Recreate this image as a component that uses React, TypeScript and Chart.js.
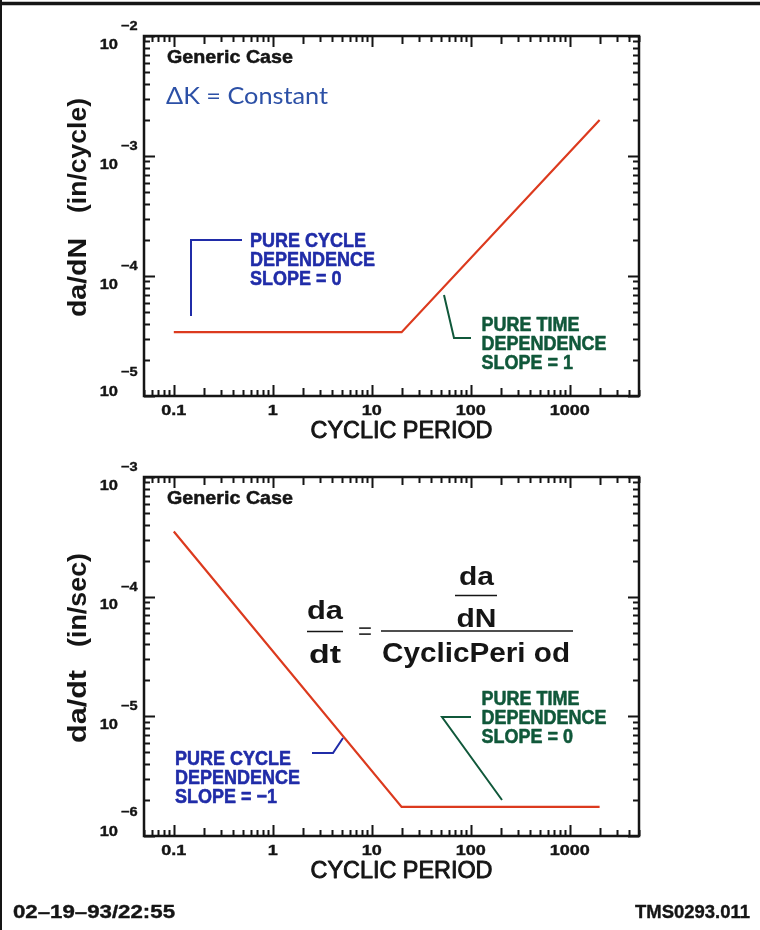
import React, { useEffect, useRef } from "react";
import { Chart, registerables } from "chart.js";

Chart.register(...registerables);

// ---- data ----
const X_RANGE = [0.05, 5000];
const X_TICK_VALUES = [0.1, 1, 10, 100, 1000];
const X_TICK_LABELS = ["0.1", "1", "10", "100", "1000"];

// crack growth per cycle vs cyclic period
const PERIOD_TOP = [0.1, 20, 2000];
const DADN_TOP = [3.4e-5, 3.4e-5, 2.0e-3];
const TOP_Y_EXPONENTS = [-5, -4, -3, -2];

// crack growth per second vs cyclic period
const PERIOD_BOTTOM = [0.1, 20, 2000];
const DADT_BOTTOM = [3.5e-4, 1.75e-6, 1.75e-6];
const BOTTOM_Y_EXPONENTS = [-6, -5, -4, -3];

// ---- styles ----
const RED = "rgb(220, 58, 30)";
const INK = "#151515";
const BLUE = "rgb(32, 44, 168)";
const LIGHT_BLUE = "rgb(44, 80, 166)";
const GREEN = "rgb(16, 88, 58)";
const SANS = '"Liberation Sans", Arial, sans-serif';

type TextOpts = {
  font: string;
  color: string;
  align?: "left" | "center" | "right";
  sx?: number;
  sy?: number;
  width?: number;
  rotate?: number;
  heavy?: number;
};

function drawText(ctx: CanvasRenderingContext2D, text: string, x: number, y: number, o: TextOpts) {
  ctx.save();
  ctx.font = o.font;
  ctx.fillStyle = o.color;
  ctx.strokeStyle = o.color;
  ctx.textBaseline = "alphabetic";
  ctx.textAlign = "left";
  ctx.translate(x, y);
  if (o.rotate) ctx.rotate(o.rotate);
  const w = ctx.measureText(text).width;
  let sx = o.sx ?? 1;
  if (o.width) sx = o.width / w;
  ctx.scale(sx, o.sy ?? 1);
  const align = o.align ?? "left";
  const dx = align === "center" ? -w / 2 : align === "right" ? -w : 0;
  ctx.fillText(text, dx, 0);
  if (o.heavy) {
    ctx.lineWidth = o.heavy;
    ctx.lineJoin = "round";
    ctx.strokeText(text, dx, 0);
  }
  ctx.restore();
}

function polyline(ctx: CanvasRenderingContext2D, pts: number[][], color: string, width = 2) {
  ctx.save();
  ctx.strokeStyle = color;
  ctx.lineWidth = width;
  ctx.lineJoin = "miter";
  ctx.beginPath();
  pts.forEach(([x, y], i) => (i === 0 ? ctx.moveTo(x, y) : ctx.lineTo(x, y)));
  ctx.stroke();
  ctx.restore();
}

function calloutLines(ctx: CanvasRenderingContext2D, lines: string[], x: number, baseline: number, color: string) {
  lines.forEach((t, i) =>
    drawText(ctx, t, x, baseline + i * 19, { font: `bold 18px ${SANS}`, color, sy: 1.1, heavy: 0.5 })
  );
}

type Panel = {
  xs: number[];
  ys: number[];
  yExps: number[];
  area: { left: number; top: number; right: number; bottom: number };
  yTitle: { text: string; center: number; width: number }[];
  decorate: (ctx: CanvasRenderingContext2D) => void;
};

const CANVAS_W = 760;
const CANVAS_H = 930;

function logTicks(min: number, max: number) {
  const out: { v: number; m: number }[] = [];
  for (let e = Math.floor(Math.log10(min)); e <= Math.ceil(Math.log10(max)); e++) {
    for (let m = 1; m <= 9; m++) {
      const v = m * Math.pow(10, e);
      if (v >= min * 0.9999 && v <= max * 1.0001) out.push({ v, m });
    }
  }
  return out;
}

function makePanel(canvas: HTMLCanvasElement, p: Panel) {
  const yMin = Math.pow(10, p.yExps[0]);
  const yMax = Math.pow(10, p.yExps[p.yExps.length - 1]);

  const paperAxes = {
    id: "paperAxes",
    afterDraw(chart: any) {
      const ctx: CanvasRenderingContext2D = chart.ctx;
      const xs = chart.scales.x;
      const ys = chart.scales.y;
      const { left, right, top, bottom } = chart.chartArea;

      // inward tick marks on all four sides
      ctx.save();
      ctx.strokeStyle = INK;
      ctx.lineWidth = 2;
      ctx.beginPath();
      for (const { v, m } of logTicks(X_RANGE[0], X_RANGE[1])) {
        const px = Math.round(xs.getPixelForValue(v)) + 0.5;
        const len = m === 1 ? 11 : m === 2 ? 8 : 6;
        ctx.moveTo(px, bottom);
        ctx.lineTo(px, bottom - len);
        ctx.moveTo(px, top);
        ctx.lineTo(px, top + len);
      }
      for (const { v, m } of logTicks(yMin, yMax)) {
        const py = Math.round(ys.getPixelForValue(v)) + 0.5;
        const len = m === 1 ? 11 : 6;
        ctx.moveTo(left, py);
        ctx.lineTo(left + len, py);
        ctx.moveTo(right, py);
        ctx.lineTo(right - len, py);
      }
      ctx.stroke();
      ctx.lineWidth = 2.5;
      ctx.strokeRect(left, top, right - left, bottom - top);
      ctx.restore();

      // x tick labels
      X_TICK_VALUES.forEach((v, i) => {
        drawText(ctx, X_TICK_LABELS[i], xs.getPixelForValue(v), bottom + 19, {
          font: `bold 15px ${SANS}`,
          color: INK,
          align: "center",
          sx: 1.2,
          heavy: 0.4,
        });
      });

      // y tick labels as powers of ten
      p.yExps.forEach((e, i) => {
        const py = ys.getPixelForValue(Math.pow(10, e));
        const isLowest = i === 0;
        const base = isLowest ? py - 0.5 : py + 12.5;
        const sup = isLowest ? py - 20 : py - 6;
        drawText(ctx, "10", left - 26, base, {
          font: `bold 15px ${SANS}`,
          color: INK,
          align: "right",
          sx: 1.1,
          heavy: 0.4,
        });
        drawText(ctx, `\u2212${Math.abs(e)}`, left - 23, sup, {
          font: `bold 13px ${SANS}`,
          color: INK,
          sx: 1.12,
          heavy: 0.4,
        });
      });

      // axis titles
      drawText(ctx, "CYCLIC PERIOD", (left + right) / 2 + 10, bottom + 42, {
        font: `23px ${SANS}`,
        color: INK,
        align: "center",
        width: 182,
        heavy: 0.9,
      });
      p.yTitle.forEach((t) =>
        drawText(ctx, t.text, 86, t.center, {
          font: `bold 26px ${SANS}`,
          color: INK,
          align: "center",
          width: t.width,
          rotate: -Math.PI / 2,
        })
      );

      drawText(ctx, "Generic Case", left + 23, top + 27, {
        font: `bold 19px ${SANS}`,
        color: INK,
        width: 126,
        heavy: 0.5,
      });

      p.decorate(ctx);
    },
  };

  return new Chart(canvas, {
    type: "line",
    data: {
      datasets: [
        {
          data: p.xs.map((x, i) => ({ x, y: p.ys[i] })),
          borderColor: RED,
          borderWidth: 2.2,
          pointRadius: 0,
          fill: false,
          tension: 0,
        },
      ],
    },
    options: {
      responsive: false,
      animation: false,
      events: [],
      layout: {
        padding: {
          left: p.area.left,
          top: p.area.top,
          right: CANVAS_W - p.area.right,
          bottom: CANVAS_H - p.area.bottom,
        },
      },
      plugins: {
        legend: { display: false },
        tooltip: { enabled: false },
        title: { display: false },
      },
      scales: {
        x: {
          type: "logarithmic",
          min: X_RANGE[0],
          max: X_RANGE[1],
          grid: { display: false, drawTicks: false },
          border: { display: false },
          ticks: { display: false },
        },
        y: {
          type: "logarithmic",
          min: yMin,
          max: yMax,
          grid: { display: false, drawTicks: false },
          border: { display: false },
          ticks: { display: false },
        },
      },
    } as any,
    plugins: [paperAxes],
  });
}

const TOP_PANEL: Panel = {
  xs: PERIOD_TOP,
  ys: DADN_TOP,
  yExps: TOP_Y_EXPONENTS,
  area: { left: 144, top: 36, right: 639, bottom: 396 },
  yTitle: [
    { text: "da/dN", center: 277.5, width: 79 },
    { text: "(in/cycle)", center: 155.5, width: 115 },
  ],
  decorate(ctx) {
    // page frame edges
    polyline(ctx, [[0, 3.5], [760, 3.5]], INK, 3.5);
    polyline(ctx, [[1, 0], [1, 930]], INK, 2);

    drawText(ctx, "\u0394K = Constant", 166, 104, { font: `23px Lato, ${SANS}`, color: LIGHT_BLUE, width: 162 });

    polyline(ctx, [[191, 316], [191, 240], [242, 240]], BLUE, 2);
    calloutLines(ctx, ["PURE CYCLE", "DEPENDENCE", "SLOPE = 0"], 250, 246.5, BLUE);

    polyline(ctx, [[444, 295], [454, 338], [471, 338]], GREEN, 2);
    calloutLines(ctx, ["PURE TIME", "DEPENDENCE", "SLOPE = 1"], 481.5, 331, GREEN);
  },
};

const BOTTOM_PANEL: Panel = {
  xs: PERIOD_BOTTOM,
  ys: DADT_BOTTOM,
  yExps: BOTTOM_Y_EXPONENTS,
  area: { left: 144, top: 477, right: 639, bottom: 836 },
  yTitle: [
    { text: "da/dt", center: 706.5, width: 73 },
    { text: "(in/sec)", center: 600, width: 94 },
  ],
  decorate(ctx) {
    // da/dt = (da/dN) / Cyclic Period
    const bold = `bold 25px ${SANS}`;
    drawText(ctx, "da", 325, 619, { font: bold, color: INK, align: "center", width: 36 });
    polyline(ctx, [[307, 631.5], [343, 631.5]], INK, 1.4);
    drawText(ctx, "dt", 325, 663, { font: bold, color: INK, align: "center", width: 32 });
    drawText(ctx, "=", 365, 639, { font: `24px ${SANS}`, color: "#333", align: "center", width: 14 });
    drawText(ctx, "da", 476.5, 585, { font: bold, color: INK, align: "center", width: 35 });
    polyline(ctx, [[455, 595.5], [497, 595.5]], INK, 1.4);
    drawText(ctx, "dN", 476.5, 627, { font: bold, color: INK, align: "center", width: 40 });
    polyline(ctx, [[381, 631], [573, 631]], INK, 1.4);
    drawText(ctx, "CyclicPeri od", 382, 662, { font: `bold 27px ${SANS}`, color: INK, width: 188 });

    polyline(ctx, [[343, 738], [333, 753], [312, 753]], BLUE, 2);
    calloutLines(ctx, ["PURE CYCLE", "DEPENDENCE", "SLOPE = \u22121"], 175, 765, BLUE);

    polyline(ctx, [[502, 800], [442, 717], [471, 717]], GREEN, 2);
    calloutLines(ctx, ["PURE TIME", "DEPENDENCE", "SLOPE = 0"], 481.5, 704.5, GREEN);

    // slide footer
    drawText(ctx, "02\u201319\u201393/22:55", 13, 918, { font: `bold 19px ${SANS}`, color: INK, width: 162, heavy: 0.4 });
    drawText(ctx, "TMS0293.011", 750, 918, {
      font: `bold 19px ${SANS}`,
      color: INK,
      align: "right",
      width: 115,
      heavy: 0.4,
    });
  },
};

export default function App() {
  const topRef = useRef<HTMLCanvasElement>(null);
  const bottomRef = useRef<HTMLCanvasElement>(null);

  useEffect(() => {
    const a = makePanel(topRef.current!, TOP_PANEL);
    const b = makePanel(bottomRef.current!, BOTTOM_PANEL);
    return () => {
      a.destroy();
      b.destroy();
    };
  }, []);

  const layer: React.CSSProperties = { position: "absolute", left: 0, top: 0 };
  return (
    <div style={{ position: "absolute", left: 0, top: 0, width: CANVAS_W, height: CANVAS_H, background: "#fff" }}>
      <canvas ref={topRef} width={CANVAS_W} height={CANVAS_H} style={layer} />
      <canvas ref={bottomRef} width={CANVAS_W} height={CANVAS_H} style={layer} />
    </div>
  );
}
